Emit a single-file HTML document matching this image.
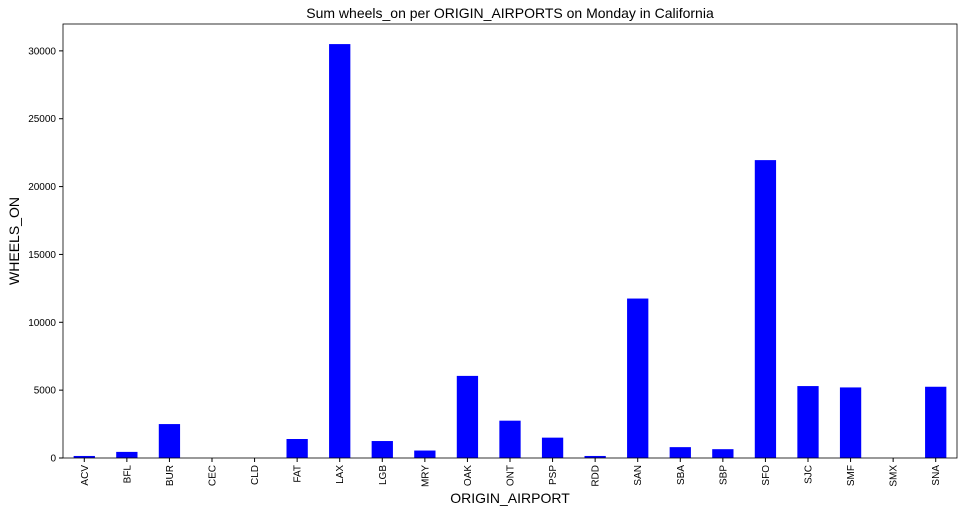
<!DOCTYPE html>
<html><head><meta charset="utf-8"><style>
body{margin:0;background:#fff;}
svg text{font-family:"Liberation Sans","DejaVu Sans",sans-serif;}
</style></head><body>
<svg id="chart" width="964" height="513">
<text x="510" y="18" text-anchor="middle" font-size="14">Sum wheels_on per ORIGIN_AIRPORTS on Monday in California</text>
<text x="510" y="503" text-anchor="middle" font-size="14">ORIGIN_AIRPORT</text>
<text transform="translate(19,241) rotate(-90)" text-anchor="middle" font-size="14">WHEELS_ON</text>
<g id="bars"></g><g id="axes"></g>
</svg>
<script>
const categories=["ACV","BFL","BUR","CEC","CLD","FAT","LAX","LGB","MRY","OAK","ONT","PSP","RDD","SAN","SBA","SBP","SFO","SJC","SMF","SMX","SNA"];
const values=[150,450,2500,0,0,1400,30500,1250,550,6050,2750,1500,150,11750,800,650,21950,5300,5200,0,5250];
const yTicks=[0,5000,10000,15000,20000,25000,30000];
const L=63,R=957,T=24,B=458,ymax=31980;
const ns="http://www.w3.org/2000/svg";
const y=v=>B-(v/ymax)*(B-T);
const step=(R-L)/categories.length;
const x=i=>L+step*(i+0.5);
const bars=document.getElementById('bars'),axes=document.getElementById('axes');
function mk(t,a,p){const e=document.createElementNS(ns,t);for(const k in a)e.setAttribute(k,a[k]);p.appendChild(e);return e;}
values.forEach((v,i)=>{
 const r=mk('rect',{x:x(i)-step*0.25,y:y(v),width:step*0.5,height:B-y(v),fill:'#0000ff'},bars);
 
 
});
const fr=mk('rect',{x:L,y:T,width:R-L,height:B-T,fill:'none',stroke:'#000','stroke-width':0.8},axes);


yTicks.forEach(v=>{
 mk('line',{x1:L-4,x2:L,y1:y(v),y2:y(v),stroke:'#000'},axes);
 const t=mk('text',{x:L-7,y:y(v)+3.5,'text-anchor':'end','font-size':10},axes);t.textContent=v;
 
 
});
categories.forEach((c,i)=>{
 mk('line',{x1:x(i),x2:x(i),y1:B,y2:B+4,stroke:'#000'},axes);
 const t=mk('text',{transform:`translate(${x(i)+3.5},${B+7}) rotate(-90)`,'text-anchor':'end','font-size':10},axes);t.textContent=c;
 
 
});
</script>
</body></html>
